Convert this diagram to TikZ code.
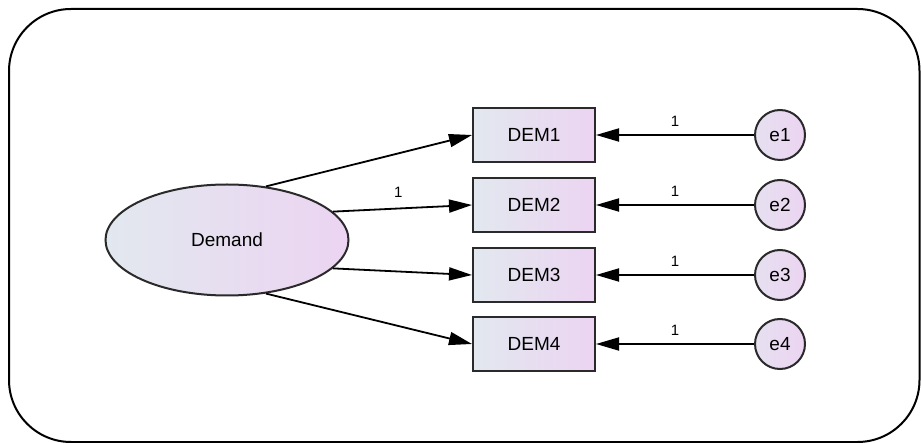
\documentclass[tikz,border=0pt]{standalone}
\usepackage{fontspec}
\setmainfont{Liberation Sans}
\usetikzlibrary{shapes.geometric,arrows.meta}
\definecolor{fillL}{HTML}{E2E8EF}
\definecolor{fillR}{HTML}{ECD4F2}
\definecolor{edge}{HTML}{2A2A2A}
\tikzset{
  obsbox/.style={rectangle, draw=edge, line width=2pt, minimum width=122pt, minimum height=54pt,
    left color=fillL, right color=fillR, font=\fontsize{19}{22}\selectfont, inner sep=0pt},
  latent/.style={ellipse, draw=edge, line width=2pt, minimum width=243pt, minimum height=111pt,
    left color=fillL, right color=fillR, font=\fontsize{19}{22}\selectfont, inner sep=0pt},
  errnode/.style={circle, draw=edge, line width=2pt, minimum size=50pt,
    left color=fillL!60!fillR, right color=fillR, font=\fontsize{19}{22}\selectfont, inner sep=0pt},
  path/.style={draw=black, line width=1.8pt, -{Triangle[length=23pt,width=13pt]}},
  wlabel/.style={font=\fontsize{15}{17}\selectfont, inner sep=0pt}
}
\begin{document}
\begin{tikzpicture}[x=1pt,y=-1pt]
\useasboundingbox (0,0) rectangle (921,443);
\begin{scope}
\clip (0,0) rectangle (921,443);
\draw[line width=2pt, rounded corners=62pt] (9,9) rectangle (919.5,442);
\end{scope}

\node[latent] (D) at (227,240) {Demand};

\node[obsbox] (m1) at (534,135) {DEM1};
\node[obsbox] (m2) at (534,205) {DEM2};
\node[obsbox] (m3) at (534,275) {DEM3};
\node[obsbox] (m4) at (534,344) {DEM4};

\node[errnode] (e1) at (780,135) {e1};
\node[errnode] (e2) at (780,205) {e2};
\node[errnode] (e3) at (780,275) {e3};
\node[errnode] (e4) at (780,344) {e4};

% loadings from the latent factor
\draw[path] (D.54) -- (m1.west);
\draw[path] (D.15) -- node[wlabel, above=10pt, pos=0.47] {1} (m2.west);
\draw[path] (D.-15) -- (m3.west);
\draw[path] (D.-54) -- (m4.west);

% error terms
\foreach \i in {1,2,3,4}{
  \draw[path] (e\i.west) -- node[wlabel, above=8pt, pos=0.5] {1} (m\i.east);
}
\end{tikzpicture}
\end{document}
